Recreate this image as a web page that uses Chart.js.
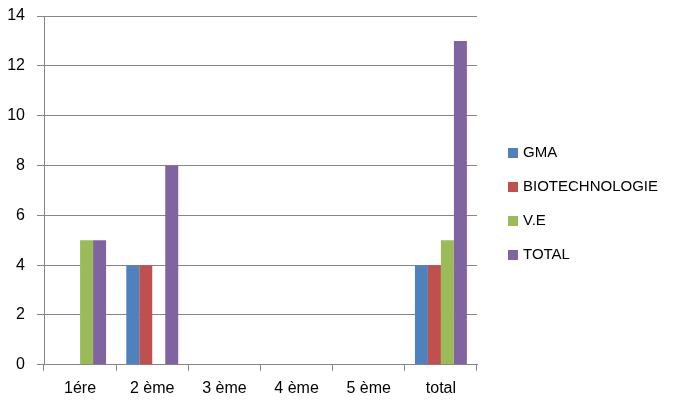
<!DOCTYPE html>
<html>
<head>
<meta charset="utf-8">
<script src="https://cdn.jsdelivr.net/npm/chart.js@4/dist/chart.umd.min.js"></script>
<style>
  html, body { margin: 0; padding: 0; background: #fff; }
  #wrap { width: 679px; height: 406px; }
</style>
</head>
<body>
<div id="wrap"><canvas id="chart"></canvas></div>
<script>
// categories and series
const categories = ["1ére", "2 ème", "3 ème", "4 ème", "5 ème", "total"];
const gma = [0, 4, 0, 0, 0, 4];
const biotech = [0, 4, 0, 0, 0, 4];
const ve = [5, 0, 0, 0, 0, 5];
const total = [5, 8, 0, 0, 0, 13];

const seriesNames = ["GMA", "BIOTECHNOLOGIE", "V.E", "TOTAL"];
const seriesColors = ["#4F81BD", "#C0504D", "#9BBB59", "#8064A2"];
const seriesData = [gma, biotech, ve, total];

const gridGray = "#868686";
const font = "'Liberation Sans', Arial, sans-serif";

// the built-in legend gets squeezed on the right, so draw a simple one here
const sideLegend = {
    id: "sideLegend",
    afterDraw(chart) {
        const ctx = chart.ctx;
        const x = chart.chartArea.right + 31;
        const rowH = 34;
        const items = chart.data.datasets;
        const midY = chart.height / 2 + 1;
        const startY = midY - (items.length - 1) * rowH / 2;
        ctx.save();
        ctx.font = "15px " + font;
        ctx.textBaseline = "middle";
        items.forEach((ds, i) => {
            const y = startY + i * rowH;
            ctx.fillStyle = ds.backgroundColor;
            ctx.fillRect(x, y - 5, 10, 10);
            ctx.fillStyle = "#000";
            ctx.fillText(ds.label, x + 15, y);
        });
        ctx.restore();
    }
};

new Chart(document.getElementById("chart"), {
    type: "bar",
    data: {
        labels: categories,
        datasets: seriesNames.map((name, i) => ({
            label: name,
            data: seriesData[i],
            backgroundColor: seriesColors[i],
            borderWidth: 0,
            categoryPercentage: 0.72,
            barPercentage: 1
        }))
    },
    options: {
        responsive: true,
        maintainAspectRatio: false,
        animation: false,
        layout: { padding: { left: 7, top: 16, bottom: 0, right: 202 } },
        scales: {
            x: {
                grid: { drawOnChartArea: false, drawTicks: true, tickLength: 6, color: gridGray },
                border: { color: gridGray },
                ticks: { color: "#000", padding: 8, font: { family: font, size: 16 } }
            },
            y: {
                min: 0,
                max: 14,
                ticks: { stepSize: 2, color: "#000", padding: 12, font: { family: font, size: 16 } },
                grid: { color: gridGray, tickLength: 7 },
                border: { color: gridGray },
                afterFit: s => { s.width = 37; s.paddingTop = 0; s.paddingBottom = 0; }
            }
        },
        plugins: {
            legend: { display: false },
            tooltip: { enabled: false }
        }
    },
    plugins: [sideLegend]
});
</script>
</body>
</html>
